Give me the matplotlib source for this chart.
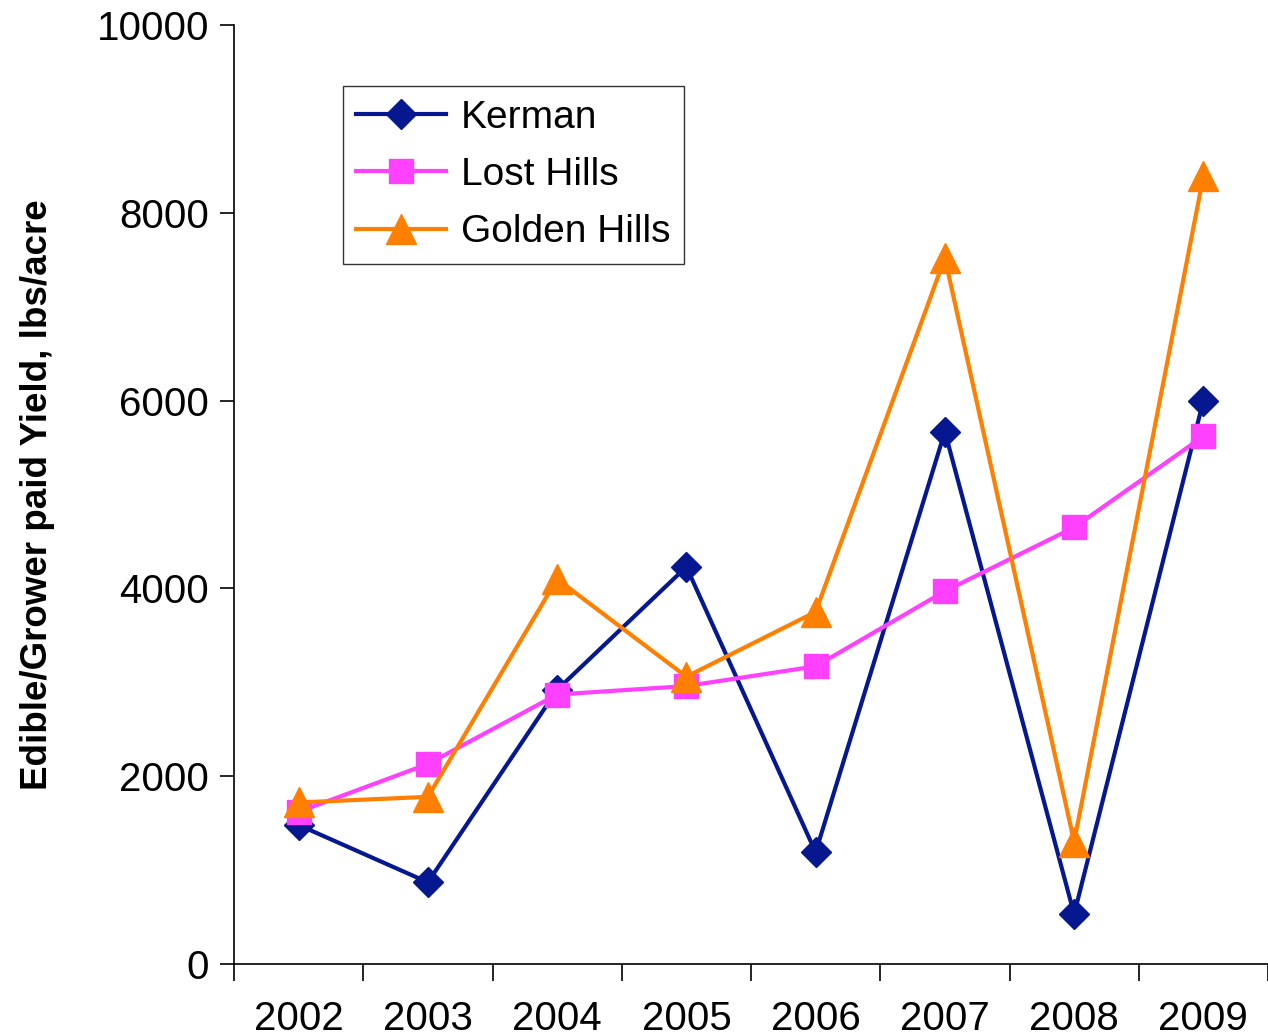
import matplotlib
matplotlib.use("Agg")
import matplotlib.pyplot as plt
import numpy as np

years = ["2002", "2003", "2004", "2005", "2006", "2007", "2008", "2009"]
kerman = [1480, 870, 2920, 4230, 1190, 5670, 530, 6000]
lost_hills = [1620, 2130, 2870, 2960, 3170, 3970, 4650, 5620]
golden_hills = [1720, 1780, 4100, 3060, 3750, 7520, 1300, 8390]

plt.rcParams['font.family'] = ['Liberation Sans', 'DejaVu Sans']

fig = plt.figure(figsize=(12.68, 10.36), dpi=100)
ax = fig.add_axes([234 / 1268, 1 - 964 / 1036, (1268 - 234) / 1268, (964 - 25) / 1036])

x = np.arange(len(years)) + 0.5
ax.plot(x, kerman, color="#061890", lw=3, marker="D", ms=15, label="Kerman")
ax.plot(x, lost_hills, color="#FF40FF", lw=3, marker="s", ms=17, label="Lost Hills")
ax.plot(x, golden_hills, color="#FF7F00", lw=3, marker="^", ms=22, label="Golden Hills")

ax.set_xlim(0, len(years))
ax.set_ylim(0, 10000)
ax.set_yticks(range(0, 10001, 2000))
ax.set_xticks(np.arange(len(years) + 1))
ax.set_xticklabels([])
ax.set_xticks(x, minor=True)
ax.set_xticklabels(years, minor=True)
ax.tick_params(axis="x", which="minor", length=0, pad=26, labelsize=29)
ax.tick_params(axis="x", which="major", length=12, width=1.2, direction="out")
ax.tick_params(axis="y", length=10, width=1.2, direction="out", labelsize=29, pad=8)

ax.spines["top"].set_visible(False)
ax.spines["right"].set_visible(False)
ax.spines["left"].set_linewidth(1.2)
ax.spines["bottom"].set_linewidth(1.2)

ax.set_ylabel("Edible/Grower paid Yield, lbs/acre", fontsize=26.5, fontweight="bold", labelpad=30)

leg = ax.legend(loc="upper left", bbox_to_anchor=(0.105, 0.935), fontsize=28,
                frameon=True, fancybox=False, edgecolor="black", handlelength=2.3,
                borderpad=0.35, labelspacing=0.55, handletextpad=0.4, borderaxespad=0)
leg.get_frame().set_linewidth(1.0)

fig.savefig("out.png", dpi=100)
